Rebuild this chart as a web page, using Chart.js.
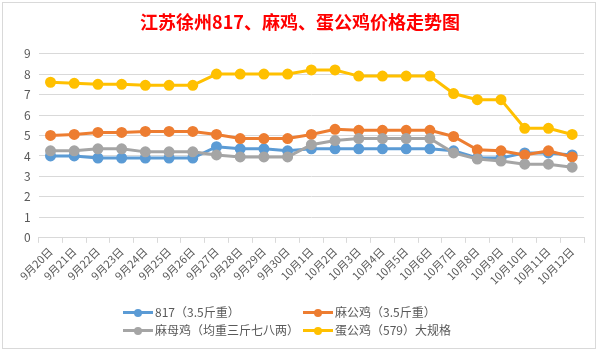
<!DOCTYPE html>
<html>
<head>
<meta charset="utf-8">
<script src="https://cdn.jsdelivr.net/npm/chart.js@4/dist/chart.umd.min.js"></script>
<style>
  html, body { margin: 0; padding: 0; background: #fff; }
  #wrap { position: relative; width: 600px; height: 353px; overflow: hidden; }
  #frame { position: absolute; left: 2px; top: 2px; width: 594px; height: 347px; border: 1px solid #d9d9d9; box-sizing: border-box; }
  canvas { position: absolute; left: 0; top: 0; }
  .leg { position: absolute; font: 12px "Noto Sans CJK SC", sans-serif; color: #595959; white-space: nowrap; line-height: 14px; }
  .leg i { position: absolute; top: 6px; width: 30px; height: 3px; }
  .leg b { position: absolute; top: 3.5px; left: 11px; width: 8px; height: 8px; border-radius: 50%; }
  .leg span { position: absolute; left: 32px; top: 0; }
</style>
</head>
<body>
<div id="wrap">
  <div id="frame"></div>
  <canvas id="priceChart" width="600" height="353"></canvas>
  <div id="legend"></div>
</div>
<script>
// 日期
const labels = ['9月20日', '9月21日', '9月22日', '9月23日', '9月24日', '9月25日', '9月26日', '9月27日', '9月28日', '9月29日', '9月30日',
    '10月1日', '10月2日', '10月3日', '10月4日', '10月5日', '10月6日', '10月7日', '10月8日', '10月9日', '10月10日', '10月11日', '10月12日'];

// 各品种价格 (元/斤)
const price817 = [4.0, 4.0, 3.9, 3.9, 3.9, 3.9, 3.9, 4.45, 4.35, 4.35, 4.25, 4.35, 4.35, 4.35, 4.35, 4.35, 4.35, 4.25, 3.9, 3.9, 4.15, 4.15, 4.05];
const priceMaGong = [5.0, 5.05, 5.15, 5.15, 5.2, 5.2, 5.2, 5.05, 4.85, 4.85, 4.85, 5.05, 5.3, 5.25, 5.25, 5.25, 5.25, 4.95, 4.3, 4.25, 4.05, 4.25, 3.95];
const priceMaMu = [4.25, 4.25, 4.35, 4.35, 4.2, 4.2, 4.2, 4.05, 3.95, 3.95, 3.95, 4.55, 4.75, 4.85, 4.85, 4.85, 4.85, 4.15, 3.85, 3.75, 3.6, 3.6, 3.45];
const priceDanGong = [7.6, 7.55, 7.5, 7.5, 7.45, 7.45, 7.45, 8.0, 8.0, 8.0, 8.0, 8.2, 8.2, 7.9, 7.9, 7.9, 7.9, 7.05, 6.75, 6.75, 5.35, 5.35, 5.05];

const seriesNames = ['817（3.5斤重）', '麻公鸡（3.5斤重）', '麻母鸡（均重三斤七八两）', '蛋公鸡（579）大规格'];
const seriesColors = ['#5B9BD5', '#ED7D31', '#A5A5A5', '#FFC000'];
const seriesData = [price817, priceMaGong, priceMaMu, priceDanGong];

const yTicks = [0, 1, 2, 3, 4, 5, 6, 7, 8, 9];

function makeDataset(i) {
    return {
        label: seriesNames[i],
        data: seriesData[i],
        borderColor: seriesColors[i],
        backgroundColor: seriesColors[i],
        borderWidth: 3,
        pointRadius: 4,
        pointHoverRadius: 4,
        tension: 0,
        order: 4 - i   // 后面的系列画在上面
    };
}

// 图例 (两列)
function buildLegend() {
    const pos = [[123, 305], [303, 305], [123, 323], [303, 323]];
    const box = document.getElementById('legend');
    seriesNames.forEach(function(name, i) {
        const d = document.createElement('div');
        d.className = 'leg';
        d.style.left = pos[i][0] + 'px';
        d.style.top = pos[i][1] + 'px';
        d.innerHTML = '<i style="background:' + seriesColors[i] + '"></i><b style="background:' + seriesColors[i] + '"></b><span>' + name + '</span>';
        box.appendChild(d);
    });
}

function createPriceChart() {
    const ctx = document.getElementById('priceChart');
    new Chart(ctx, {
        type: 'line',
        data: {
            labels: labels,
            datasets: [0, 1, 2, 3].map(makeDataset)
        },
        options: {
            responsive: false,
            animation: false,
            layout: {
                padding: { left: 16, right: 16, top: 0, bottom: 64 }
            },
            plugins: {
                legend: { display: false },
                tooltip: { enabled: false },
                title: {
                    display: true,
                    text: '江苏徐州817、麻鸡、蛋公鸡价格走势图',
                    color: '#FF0000',
                    font: { family: '"Noto Sans CJK SC", sans-serif', size: 18, weight: 'bold' },
                    padding: { top: 11, bottom: 21 }
                }
            },
            scales: {
                x: {
                    offset: true,
                    grid: {
                        offset: true,
                        drawOnChartArea: false,
                        drawTicks: true,
                        tickLength: 5,
                        color: '#d9d9d9'
                    },
                    border: { display: true, color: '#d9d9d9' },
                    ticks: {
                        color: '#595959',
                        font: { family: '"Noto Sans CJK SC", sans-serif', size: 11 },
                        maxRotation: 45,
                        minRotation: 45,
                        autoSkip: false,
                        padding: 2
                    }
                },
                y: {
                    min: 0,
                    max: 9,
                    afterBuildTicks: function(axis) {
                        axis.ticks = yTicks.map(function(v) { return { value: v }; });
                    },
                    grid: { color: '#d9d9d9', drawTicks: false },
                    border: { display: false },
                    ticks: {
                        color: '#595959',
                        font: { family: '"Noto Sans CJK SC", sans-serif', size: 12 },
                        padding: 8
                    }
                }
            }
        }
    });
}

buildLegend();
createPriceChart();
</script>
</body>
</html>
